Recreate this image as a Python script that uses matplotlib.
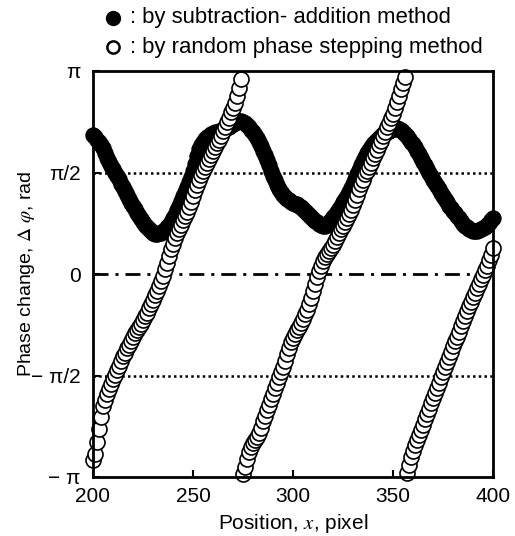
import numpy as np
import matplotlib
matplotlib.use("Agg")
import matplotlib.pyplot as plt
from matplotlib.lines import Line2D

plt.rcParams["font.family"] = ["Liberation Sans", "DejaVu Sans"]
plt.rcParams["mathtext.fontset"] = "stix"

# position x = 200 .. 400 (1 pixel step), phase in rad
X_START = 200

# subtraction-addition method (filled)
PHI_SA = [
    2.15, 2.12, 2.08, 2.05, 2.00, 1.95, 1.88, 1.80, 1.73, 1.67,   # 200-209
    1.62, 1.57, 1.52, 1.47, 1.40, 1.34, 1.28, 1.22, 1.16, 1.10,   # 210-219
    1.05, 1.00, 0.95, 0.90, 0.85, 0.80, 0.76, 0.72, 0.69, 0.66,   # 220-229
    0.64, 0.62, 0.62, 0.63, 0.64, 0.66, 0.68, 0.72, 0.76, 0.81,   # 230-239
    0.86, 0.92, 0.99, 1.06, 1.13, 1.20, 1.27, 1.34, 1.42, 1.50,   # 240-249
    1.59, 1.70, 1.82, 1.93, 2.00, 2.05, 2.09, 2.12, 2.14, 2.16,   # 250-259
    2.18, 2.19, 2.20, 2.21, 2.22, 2.24, 2.25, 2.27, 2.28, 2.30,   # 260-269
    2.32, 2.34, 2.36, 2.37, 2.37, 2.36, 2.34, 2.31, 2.27, 2.23,   # 270-279
    2.19, 2.15, 2.10, 2.04, 1.98, 1.91, 1.84, 1.76, 1.68, 1.60,   # 280-289
    1.52, 1.45, 1.38, 1.32, 1.27, 1.23, 1.19, 1.16, 1.14, 1.12,   # 290-299
    1.10, 1.09, 1.08, 1.06, 1.04, 1.01, 0.98, 0.95, 0.92, 0.88,   # 300-309
    0.85, 0.82, 0.80, 0.78, 0.76, 0.75, 0.75, 0.77, 0.80, 0.84,   # 310-319
    0.88, 0.92, 0.96, 1.01, 1.06, 1.11, 1.16, 1.21, 1.27, 1.33,   # 320-329
    1.40, 1.47, 1.54, 1.61, 1.68, 1.75, 1.81, 1.87, 1.92, 1.97,   # 330-339
    2.01, 2.05, 2.08, 2.11, 2.14, 2.16, 2.18, 2.20, 2.22, 2.23,   # 340-349
    2.24, 2.25, 2.26, 2.25, 2.23, 2.20, 2.17, 2.13, 2.09, 2.05,   # 350-359
    2.01, 1.96, 1.91, 1.86, 1.80, 1.74, 1.68, 1.62, 1.56, 1.51,   # 360-369
    1.46, 1.41, 1.36, 1.31, 1.26, 1.21, 1.16, 1.11, 1.06, 1.02,   # 370-379
    0.98, 0.94, 0.90, 0.86, 0.82, 0.78, 0.75, 0.72, 0.70, 0.68,   # 380-389
    0.67, 0.67, 0.67, 0.68, 0.69, 0.71, 0.73, 0.76, 0.79, 0.83,   # 390-399
    0.87,                                                         # 400
]

# random phase stepping method (open), wrapped
PHI_RPS = [
    -2.88, -2.78, -2.60, -2.40, -2.22, -2.05, -1.95, -1.86, -1.78, -1.70,   # 200-209
    -1.63, -1.56, -1.49, -1.42, -1.35, -1.27, -1.22, -1.15, -1.10, -1.03,   # 210-219
    -0.97, -0.92, -0.86, -0.82, -0.77, -0.71, -0.65, -0.60, -0.53, -0.47,   # 220-229
    -0.40, -0.33, -0.26, -0.19, -0.11, -0.03, 0.07, 0.17, 0.28, 0.38,       # 230-239
    0.47, 0.56, 0.63, 0.70, 0.76, 0.83, 0.89, 0.96, 1.04, 1.12,             # 240-249
    1.20, 1.30, 1.38, 1.46, 1.53, 1.60, 1.66, 1.72, 1.78, 1.84,             # 250-259
    1.90, 1.96, 2.02, 2.08, 2.14, 2.21, 2.28, 2.35, 2.42, 2.50,             # 260-269
    2.57, 2.65, 2.75, 2.88, 3.02, -3.10, -2.98, -2.86, -2.76, -2.68,        # 270-279
    -2.62, -2.57, -2.52, -2.46, -2.38, -2.28, -2.19, -2.10, -2.02, -1.94,   # 280-289
    -1.86, -1.77, -1.69, -1.60, -1.52, -1.44, -1.34, -1.24, -1.14, -1.06,   # 290-299
    -0.99, -0.93, -0.87, -0.82, -0.76, -0.69, -0.62, -0.55, -0.47, -0.37,   # 300-309
    -0.27, -0.15, -0.05, 0.05, 0.13, 0.20, 0.26, 0.31, 0.35, 0.40,          # 310-319
    0.45, 0.51, 0.57, 0.63, 0.69, 0.75, 0.81, 0.87, 0.93, 0.99,             # 320-329
    1.07, 1.15, 1.23, 1.31, 1.39, 1.46, 1.54, 1.60, 1.66, 1.72,             # 330-339
    1.79, 1.85, 1.92, 1.99, 2.06, 2.13, 2.20, 2.27, 2.34, 2.41,             # 340-349
    2.48, 2.57, 2.66, 2.76, 2.86, 2.96, 3.05, -3.08, -2.95, -2.83,          # 350-359
    -2.74, -2.65, -2.57, -2.49, -2.41, -2.33, -2.25, -2.17, -2.09, -2.00,   # 360-369
    -1.92, -1.84, -1.76, -1.68, -1.60, -1.52, -1.44, -1.36, -1.28, -1.20,   # 370-379
    -1.12, -1.04, -0.97, -0.89, -0.81, -0.73, -0.65, -0.58, -0.50, -0.43,   # 380-389
    -0.36, -0.29, -0.22, -0.15, -0.08, -0.01, 0.06, 0.13, 0.21, 0.29,       # 390-399
    0.40,                                                                   # 400
]

YTICKS = [-np.pi, -np.pi / 2, 0, np.pi / 2, np.pi]
YTICKLABELS = ["\u2212 \u03c0", "\u2212 \u03c0/2", "0", "\u03c0/2", "\u03c0"]
XTICKS = [200, 250, 300, 350, 400]

x_sa = np.arange(X_START, X_START + len(PHI_SA))
x_rps = np.arange(X_START, X_START + len(PHI_RPS))

W, H = 515, 536
fig = plt.figure(figsize=(W / 100, H / 100), dpi=100)
ax = fig.add_axes([93 / W, 1 - 477 / H, 400 / W, 406 / H])

# reference lines
ax.axhline(np.pi / 2, color="k", lw=1.8, ls=(0, (1.0, 1.3)), zorder=1)
ax.axhline(-np.pi / 2, color="k", lw=1.8, ls=(0, (1.0, 1.3)), zorder=1)
ax.axhline(0, color="k", lw=2.0, ls=(0, (5.4, 2.5, 1.1, 2.5)), zorder=1)

ax.plot(x_sa, PHI_SA, "o", ms=10.8, mfc="k", mec="k", mew=1.0,
        clip_on=False, zorder=3)
ax.plot(x_rps, PHI_RPS, "o", ms=10.8, mfc="w", mec="k", mew=1.2,
        clip_on=False, zorder=4)

ax.set_xlim(200, 400)
ax.set_ylim(-np.pi, np.pi)
ax.set_xticks(XTICKS)
ax.set_yticks(YTICKS)
ax.set_yticklabels(YTICKLABELS)
ax.tick_params(direction="in", length=5, width=1.5, labelsize=15)
ax.tick_params(axis="y", pad=9)
ax.tick_params(axis="x", pad=7)
for s in ax.spines.values():
    s.set_linewidth(2.0)
    s.set_zorder(5)

ax.set_xlabel("Position, $x$, pixel", fontsize=15)
ax.xaxis.set_label_coords(0.5, -0.085)
ax.set_ylabel(r"Phase change, $\mathit{\Delta\ \varphi}$, rad", fontsize=14)
ax.yaxis.set_label_coords(-0.14, 0.50)

# legend written above the axes
fig.add_artist(Line2D([113 / W], [1 - 18 / H], marker="o", ms=10,
                      mfc="k", mec="k", transform=fig.transFigure))
fig.add_artist(Line2D([113 / W], [1 - 47 / H], marker="o", ms=8.8,
                      mfc="w", mec="k", mew=1.8, transform=fig.transFigure))
fig.text(130 / W, 1 - 18 / H, ": by subtraction- addition method",
         fontsize=15.9, va="center", ha="left")
fig.text(130 / W, 1 - 47 / H, ": by random phase stepping method",
         fontsize=15.9, va="center", ha="left")

fig.savefig("out.png", dpi=100)
